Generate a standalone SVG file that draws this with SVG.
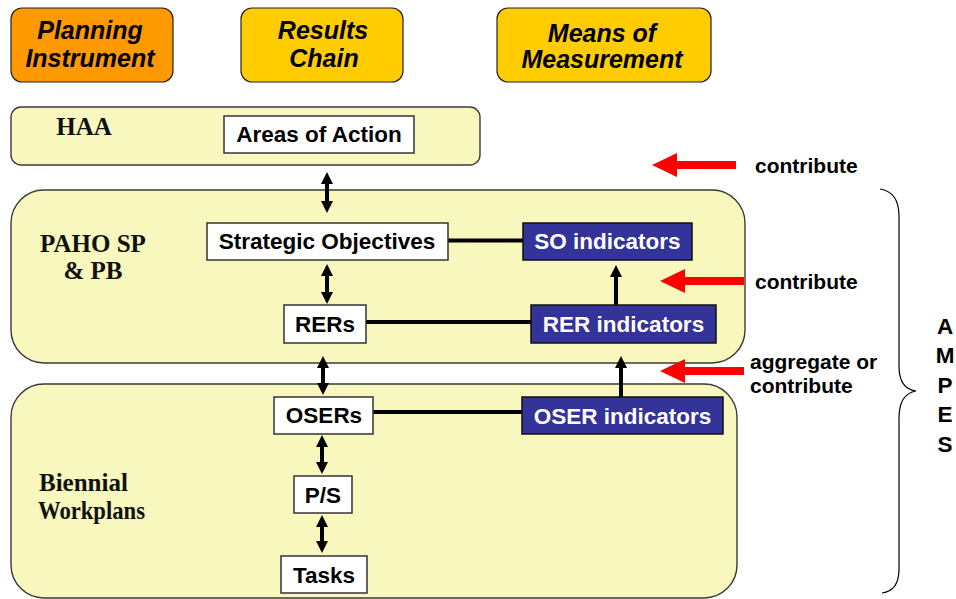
<svg xmlns="http://www.w3.org/2000/svg" width="956" height="599" viewBox="0 0 956 599">
<style>
.hdr{stroke:#222;stroke-width:1.2}
.hdrt{font-family:"Liberation Sans",Arial,sans-serif;font-weight:bold;font-style:italic;font-size:25px;fill:#000;text-anchor:middle}
.panel{fill:#F8F7BD;stroke:#3a3a3a;stroke-width:1.4}
.ptxt{font-family:"Liberation Serif","Times New Roman",serif;font-weight:bold;font-size:25px;fill:#111}
.wbox{fill:#fff;stroke:#333;stroke-width:1.5}
.ibox{fill:#333399;stroke:#111;stroke-width:1.5}
.lbl{font-family:"Liberation Sans",Arial,sans-serif;font-weight:bold;font-size:22.5px;text-anchor:middle;fill:#000}
.ilbl{font-family:"Liberation Sans",Arial,sans-serif;font-weight:bold;font-size:22.5px;text-anchor:middle;fill:#fff}
.side{font-family:"Liberation Sans",Arial,sans-serif;font-weight:bold;font-size:21px;fill:#000}
.ampes{font-family:"Liberation Sans",Arial,sans-serif;font-weight:bold;font-size:22.5px;fill:#000;text-anchor:middle}
.conn{stroke:#000;stroke-width:4;fill:none}
.dbl{marker-start:url(#ah);marker-end:url(#ah)}
.one{marker-end:url(#ah)}
.red{fill:#FF0000}
</style>
<defs>
<marker id="ah" viewBox="0 0 12 12" refX="0" refY="6" markerWidth="12" markerHeight="12" markerUnits="userSpaceOnUse" orient="auto-start-reverse">
<path d="M0,0 L12,6 L0,12 z" fill="#000"/>
</marker>
<path id="redarrow" d="M0,0 L25,-12 L25,-4 L84,-4 L84,4 L25,4 L25,12 z"/>
</defs>

<g id="hdr-planning">
<rect class="hdr" x="11" y="8" width="162" height="74" rx="11" fill="#FF9900"/>
<text class="hdrt" x="90" y="39">Planning</text>
<text class="hdrt" x="90" y="67">Instrument</text>
</g>
<g id="hdr-results">
<rect class="hdr" x="241" y="8" width="162" height="74" rx="11" fill="#FFCC00"/>
<text class="hdrt" x="323" y="39">Results</text>
<text class="hdrt" x="324" y="67">Chain</text>
</g>
<g id="hdr-means">
<rect class="hdr" x="497" y="8" width="214" height="74" rx="11" fill="#FFCC00"/>
<text class="hdrt" x="602" y="42">Means of</text>
<text class="hdrt" x="602" y="68">Measurement</text>
</g>

<g id="panel-haa">
<rect class="panel" x="11" y="107" width="469" height="58" rx="10"/>
<text class="ptxt" x="84" y="135" text-anchor="middle" font-size="24">HAA</text>
</g>
<g id="panel-paho">
<rect class="panel" x="11" y="190" width="734" height="173" rx="33"/>
<text class="ptxt" x="93" y="252" text-anchor="middle">PAHO SP</text>
<text class="ptxt" x="93" y="279" text-anchor="middle">&amp; PB</text>
</g>
<g id="panel-biennial">
<rect class="panel" x="11" y="384" width="726" height="214" rx="33"/>
<text class="ptxt" x="39" y="491">Biennial</text>
<text class="ptxt" x="38" y="519" textLength="107" lengthAdjust="spacingAndGlyphs">Workplans</text>
</g>

<g id="connectors">
<line class="conn dbl" x1="327" y1="184" x2="327" y2="201"/>
<line class="conn dbl" x1="327" y1="276" x2="327" y2="292"/>
<line class="conn dbl" x1="323" y1="368" x2="323" y2="383"/>
<line class="conn dbl" x1="322" y1="447" x2="322" y2="462"/>
<line class="conn dbl" x1="322" y1="527" x2="322" y2="541"/>
<line class="conn" x1="448" y1="240.5" x2="523" y2="240.5"/>
<line class="conn" x1="366" y1="322" x2="531" y2="322"/>
<line class="conn" x1="373" y1="412" x2="522" y2="412"/>
<line class="conn one" x1="616" y1="305" x2="616" y2="277"/>
<line class="conn one" x1="621" y1="397" x2="621" y2="368"/>
</g>

<g id="node-areas">
<rect class="wbox" x="224" y="116" width="190" height="37"/>
<text class="lbl" x="319" y="142">Areas of Action</text>
</g>
<g id="node-so">
<rect class="wbox" x="207" y="223" width="241" height="37"/>
<text class="lbl" x="327" y="249">Strategic Objectives</text>
</g>
<g id="node-rers">
<rect class="wbox" x="284" y="305" width="82" height="38"/>
<text class="lbl" x="325" y="332">RERs</text>
</g>
<g id="node-osers">
<rect class="wbox" x="274" y="397" width="99" height="37"/>
<text class="lbl" x="324" y="423">OSERs</text>
</g>
<g id="node-ps">
<rect class="wbox" x="294" y="476" width="58" height="37"/>
<text class="lbl" x="323" y="503">P/S</text>
</g>
<g id="node-tasks">
<rect class="wbox" x="281" y="556" width="86" height="37"/>
<text class="lbl" x="324" y="583">Tasks</text>
</g>
<g id="node-so-ind">
<rect class="ibox" x="523" y="223" width="169" height="37"/>
<text class="ilbl" x="607.5" y="249">SO indicators</text>
</g>
<g id="node-rer-ind">
<rect class="ibox" x="531" y="305" width="185" height="38"/>
<text class="ilbl" x="623.5" y="332">RER indicators</text>
</g>
<g id="node-oser-ind">
<rect class="ibox" x="522" y="397" width="201" height="37"/>
<text class="ilbl" x="622.5" y="424">OSER indicators</text>
</g>

<g id="red-arrows">
<use href="#redarrow" class="red" transform="translate(652,165)"/>
<use href="#redarrow" class="red" transform="translate(660,281)"/>
<use href="#redarrow" class="red" transform="translate(660,371)"/>
</g>
<g id="side-labels">
<text class="side" x="755" y="173">contribute</text>
<text class="side" x="755" y="289">contribute</text>
<text class="side" x="750" y="369">aggregate or</text>
<text class="side" x="750" y="393">contribute</text>
</g>

<g id="brace">
<path d="M880,189 Q899,192 899,216 L899,366 Q899,389 916,391 Q899,394 899,418 L899,569 Q899,591 882,593" fill="none" stroke="#000" stroke-width="1.2"/>
<text class="ampes" x="945" y="334">A</text>
<text class="ampes" x="945" y="363">M</text>
<text class="ampes" x="945" y="393">P</text>
<text class="ampes" x="945" y="422">E</text>
<text class="ampes" x="945" y="452">S</text>
</g>
</svg>
